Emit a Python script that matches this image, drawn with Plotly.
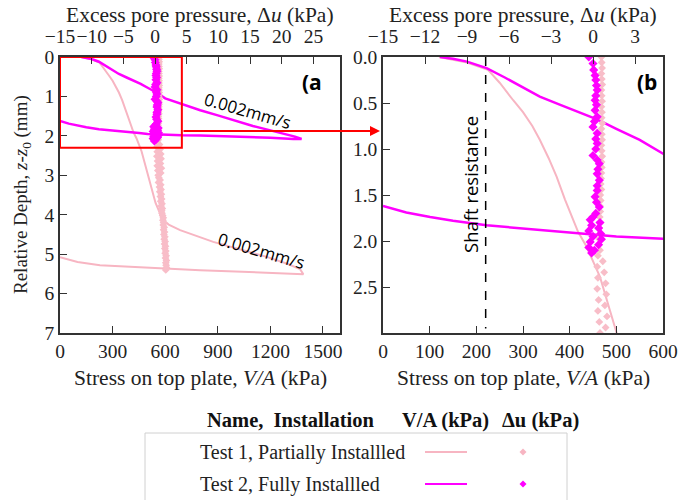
import plotly.graph_objects as go

# ---------------- data ----------------
# Test 2 (fully installed): stress V/A (kPa) vs relative depth (mm)
t2_stress = [122, 150, 180, 222, 260, 300, 336, 380, 436, 460, 500, 550, 600, 650, 694,
             800, 900, 988, 1100, 1200, 1274, 1340, 1378,
             1330, 1200, 988, 800, 694, 600, 500, 451, 350, 222, 150, 101, 50, 0]
t2_depth = [0.0, 0.02, 0.05, 0.12, 0.22, 0.33, 0.43, 0.52, 0.63, 0.68, 0.78, 0.90, 1.05, 1.13, 1.20,
            1.35, 1.48, 1.60, 1.75, 1.86, 1.94, 2.02, 2.08,
            2.08, 2.05, 2.01, 1.99, 1.985, 1.975, 1.95, 1.93, 1.89, 1.83, 1.78, 1.74, 1.69, 1.62]

# Test 1 (partially installed): stress V/A (kPa) vs relative depth (mm)
t1_stress = [120, 180, 225, 250, 279, 300, 320, 336, 355, 372, 390, 408, 418, 436, 465, 486, 500,
             523, 545, 570, 580, 620, 685, 874, 1000, 1179, 1300, 1369, 1388,
             1200, 1000, 799, 500, 228, 100, 0]
t1_depth = [0.0, 0.06, 0.14, 0.28, 0.47, 0.60, 0.75, 0.90, 1.10, 1.30, 1.55, 1.77, 1.90, 2.06, 2.39, 2.75, 3.00,
            3.38, 3.70, 3.96, 4.10, 4.25, 4.39, 4.69, 4.85, 5.07, 5.25, 5.38, 5.51,
            5.47, 5.44, 5.41, 5.35, 5.28, 5.20, 5.08]

# Test 2 excess pore pressure (kPa) vs depth (mm)
t2_du_depth = [0.00, 0.07, 0.14, 0.20, 0.25, 0.31, 0.36, 0.42, 0.47, 0.52, 0.58, 0.65, 0.70, 0.76,
               0.83, 0.89, 0.94, 1.00, 1.07, 1.12, 1.16, 1.22, 1.27, 1.34, 1.40, 1.45, 1.52, 1.58,
               1.63, 1.70, 1.74, 1.77, 1.80, 1.83, 1.86, 1.89, 1.92, 1.95, 1.98, 2.01, 2.04, 2.07,
               2.10, 2.13]
t2_du = [-0.3, 0.0, 0.05, 0.15, 0.2, 0.25, 0.3, 0.2, 0.15, 0.25, 0.15, 0.3, 0.1, 0.0,
         0.3, 0.2, 0.3, 0.2, 0.0, 0.3, 0.45, 0.35, 0.3, 0.45, 0.3, 0.3, 0.15, 0.25,
         0.45, 0.2, 0.0, -0.2, 0.5, -0.1, 0.4, -0.3, 0.55, 0.0, 0.6, -0.2, 0.4, -0.3,
         0.1, -0.1]

# Test 1 excess pore pressure (kPa) vs depth (mm)
t1_du_depth = [0.00, 0.06, 0.12, 0.18, 0.24, 0.30, 0.36, 0.42, 0.48, 0.54, 0.60, 0.66, 0.72, 0.78,
               0.84, 0.90, 0.96, 1.02, 1.08, 1.14, 1.20, 1.26, 1.32, 1.38, 1.44, 1.50, 1.56, 1.62,
               1.68, 1.74, 1.80, 1.86, 1.92, 1.98, 2.04, 2.10, 2.16, 2.22, 2.28, 2.34, 2.40, 2.46,
               2.52, 2.58, 2.64, 2.70, 2.76, 2.82, 2.88, 2.94, 3.00, 3.06, 3.12, 3.18, 3.24, 3.30,
               3.36, 3.42, 3.48, 3.54, 3.60, 3.66, 3.72, 3.78, 3.84, 3.90, 3.96, 4.02, 4.08, 4.14,
               4.20, 4.26, 4.32, 4.38, 4.44, 4.50, 4.56, 4.62, 4.68, 4.74, 4.80, 4.86, 4.92, 4.98,
               5.04, 5.10, 5.16, 5.22, 5.28, 5.34, 5.40]
t1_du = [0.60, 0.62, 0.65, 0.60, 0.63, 0.66, 0.60, 0.62, 0.65, 0.60, 0.64, 0.62, 0.66, 0.60,
         0.63, 0.65, 0.60, 0.62, 0.66, 0.61, 0.63, 0.60, 0.58, 0.55, 0.60, 0.52, 0.55, 0.50,
         0.52, 0.48, 0.50, 0.45, 0.50, 0.45, 0.40, 0.50, 0.35, 0.70, 0.30, 0.80, 0.35, 0.90,
         0.30, 0.95, 0.40, 0.85, 0.35, 1.00, 0.45, 0.90, 0.50, 0.60, 0.80, 0.55, 0.90, 0.70,
         0.95, 0.75, 1.00, 0.85, 1.05, 0.90, 1.10, 0.95, 1.15, 1.05, 1.10, 1.20, 1.30, 1.25,
         1.35, 1.30, 1.45, 1.35, 1.50, 1.40, 1.55, 1.45, 1.60, 1.50, 1.65, 1.55, 1.70, 1.60,
         1.75, 1.65, 1.80, 1.70, 1.75, 1.80, 1.70]

# axis ticks
left_stress_ticks = [0, 300, 600, 900, 1200, 1500]
left_du_ticks = [-15, -10, -5, 0, 5, 10, 15, 20, 25]
left_depth_ticks = [0, 1, 2, 3, 4, 5, 6, 7]
right_stress_ticks = [0, 100, 200, 300, 400, 500, 600]
right_du_ticks = [-15, -12, -9, -6, -3, 0, 3]
right_depth_ticks = [0.0, 0.5, 1.0, 1.5, 2.0, 2.5]

PINK = "#F7B5C2"
PINK_M = "#F8BDC8"
MAG = "#FF00FF"
SERIF = "Liberation Serif"
SANS = "Open Sans"
AX = "#333333"

W, H = 694, 500
def px(x):
    return x / W
def py(y):
    return 1 - y / H

fig = go.Figure()

for xa, ya, xdu in [("x", "y", "x3"), ("x2", "y2", "x4")]:
    fig.add_trace(go.Scatter(x=t1_stress, y=t1_depth, mode="lines", xaxis=xa, yaxis=ya,
                             line=dict(color=PINK, width=2), showlegend=False))
    fig.add_trace(go.Scatter(x=t1_du, y=t1_du_depth, mode="markers", xaxis=xdu, yaxis=ya,
                             marker=dict(symbol="diamond", size=6, color=PINK_M), showlegend=False))
    fig.add_trace(go.Scatter(x=t2_stress, y=t2_depth, mode="lines", xaxis=xa, yaxis=ya,
                             line=dict(color=MAG, width=2.5), showlegend=False))
    fig.add_trace(go.Scatter(x=t2_du, y=t2_du_depth, mode="markers", xaxis=xdu, yaxis=ya,
                             marker=dict(symbol="diamond", size=7, color=MAG), showlegend=False))

tickfont = dict(family=SERIF, size=19.5, color="#222222")
common = dict(showgrid=False, zeroline=False, showline=True, linecolor=AX, linewidth=1.5,
              ticks="inside", ticklen=7, tickwidth=1.2, tickcolor=AX, tickfont=tickfont,
              automargin=False, tickangle=0)

dom_l = [px(60), px(340)]
dom_r = [px(383), px(663)]
dom_y = [py(333), py(57)]

fig.update_layout(
    width=W, height=H,
    margin=dict(l=0, r=0, t=0, b=0, pad=0),
    paper_bgcolor="white", plot_bgcolor="white",
    showlegend=False,
    xaxis=dict(domain=dom_l, range=[0, 1597], tickvals=left_stress_ticks, anchor="y",
               mirror=True, **common),
    yaxis=dict(domain=dom_y, range=[7, 0], tickvals=left_depth_ticks, anchor="x",
               mirror=True, **common),
    xaxis3=dict(overlaying="x", side="top", anchor="y", range=[-15, 29.2],
                tickvals=left_du_ticks, ticktext=["\u221215", "\u221210", "\u22125", "0", "5",
                                                  "10", "15", "20", "25"],
                ticklabelstandoff=4, **common),
    xaxis2=dict(domain=dom_r, range=[0, 600], tickvals=right_stress_ticks, anchor="y2",
                mirror=True, **common),
    yaxis2=dict(domain=dom_y, range=[3, 0], tickvals=right_depth_ticks, tickformat=".1f",
                anchor="x2", mirror=True, **common),
    xaxis4=dict(overlaying="x2", side="top", anchor="y2", range=[-15, 5],
                tickvals=right_du_ticks, ticktext=["\u221215", "\u221212", "\u22129", "\u22126",
                                                   "\u22123", "0", "3"],
                ticklabelstandoff=4, **common),
)

def note(text, x, y, font, angle=0, xanchor="center"):
    return dict(text=text, x=px(x), y=py(y), xref="paper", yref="paper", showarrow=False,
                xanchor=xanchor, yanchor="middle", textangle=angle, font=font)

ann = []
title_font = dict(family=SERIF, size=21.5, color="#222222")
for cx in [200, 523]:
    ann.append(note("Excess pore pressure, \u0394<i>u</i> (kPa)", cx, 15, title_font))
    ann.append(note("Stress on top plate, <i>V/A</i> (kPa)", cx, 378, title_font))
ann.append(note("Relative Depth, <i>z</i>-<i>z</i><sub>0</sub> (mm)", 22, 195,
                dict(family=SERIF, size=19, color="#222222"), angle=-90))
lab_font = dict(family=SANS, size=21, color="black")
ann.append(note("<b>(a</b>", 312, 82, lab_font))
ann.append(note("<b>(b</b>", 647, 82, lab_font))
rate_font = dict(family=SANS, size=17, color="black")
ann.append(note("0.002mm/s", 247, 111, rate_font, angle=16))
ann.append(note("0.002mm/s", 261, 250, rate_font, angle=16))
ann.append(note("Shaft resistance", 470, 185, dict(family=SANS, size=18.5, color="black"), angle=-90))
# arrow from zoom box to panel b
ann.append(dict(text="", x=px(380), y=py(131), xref="paper", yref="paper", showarrow=True,
                ax=-198, ay=0, arrowcolor="red", arrowwidth=2, arrowhead=2, arrowsize=1))
# custom legend
hdr = dict(family=SERIF, size=20.5, color="#111111")
ann.append(note("<b>Name,  Installation</b>", 290, 420, hdr))
ann.append(note("<b>V/A (kPa)</b>", 446, 420, hdr))
ann.append(note("<b>\u0394u (kPa)</b>", 540, 420, hdr))
row_font = dict(family=SERIF, size=20, color="#222222")
ann.append(note("Test 1, Partially Installled", 198, 452, row_font, xanchor="left"))
ann.append(note("Test 2, Fully Installled", 198, 484, row_font, xanchor="left"))
fig.update_layout(annotations=ann)

shapes = []
# zoom box on panel a
shapes.append(dict(type="rect", xref="x", yref="y", x0=0, x1=695, y0=0, y1=2.3,
                   line=dict(color="red", width=2)))
# shaft resistance line
shapes.append(dict(type="line", xref="x2", yref="y2", x0=220, x1=220, y0=0, y1=2.95,
                   line=dict(color="black", width=1.5, dash="dash")))
# legend box
shapes.append(dict(type="rect", xref="paper", yref="paper", x0=px(145), x1=px(567), y0=-0.01, y1=py(433),
                   line=dict(color="#d0d0d0", width=1)))
for yy, col in [(452, PINK), (484, MAG)]:
    shapes.append(dict(type="line", xref="paper", yref="paper", x0=px(425), x1=px(467),
                       y0=py(yy), y1=py(yy), line=dict(color=col, width=2)))
    d = 3.5
    path = (f"M {px(523-d)},{py(yy)} L {px(523)},{py(yy-d)} L {px(523+d)},{py(yy)} "
            f"L {px(523)},{py(yy+d)} Z")
    shapes.append(dict(type="path", xref="paper", yref="paper", path=path,
                       fillcolor=col, line=dict(color=col, width=0)))
fig.update_layout(shapes=shapes)

fig.write_html("out.html")
